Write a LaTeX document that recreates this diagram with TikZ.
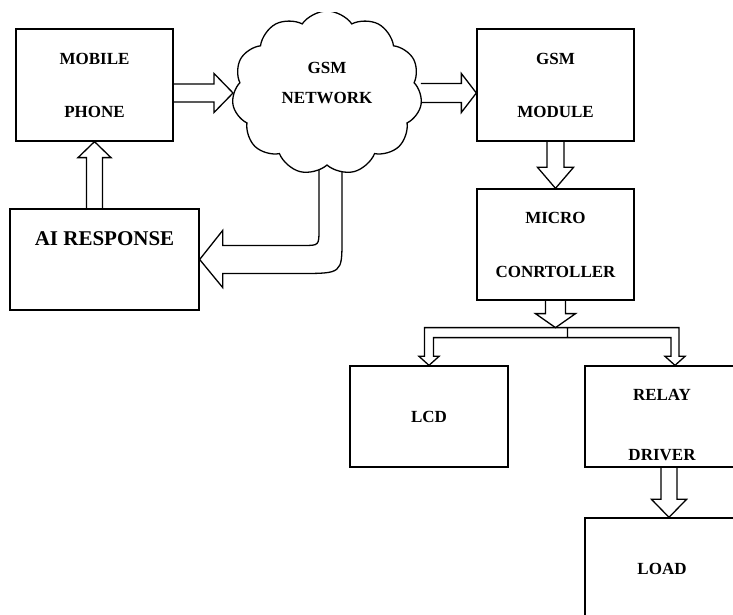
\documentclass[tikz,border=0pt]{standalone}
\usepackage{fontspec}
\setmainfont{Liberation Serif}
\usetikzlibrary{calc,shapes.symbols,backgrounds}

\begin{document}
\begin{tikzpicture}[x=1pt, y=1pt,
    block/.style={draw=black, line width=1.3pt, minimum width=157pt, minimum height=112pt, align=center, font=\bfseries\fontsize{17}{20}\selectfont},
    hollow/.style={draw=black, line width=1.3pt, line join=miter},
    fat/.style args={#1/#2/#3}{hollow, to path={($(\tikztostart)!#1!90:(\tikztotarget)$) -- ($(\tikztotarget)!#3!(\tikztostart)!#1!90:(\tikztotarget)$) -- ($(\tikztotarget)!#3!(\tikztostart)!#2!90:(\tikztotarget)$) -- (\tikztotarget) -- ($(\tikztotarget)!#3!(\tikztostart)!#2!-90:(\tikztotarget)$) -- ($(\tikztotarget)!#3!(\tikztostart)!#1!-90:(\tikztotarget)$) -- ($(\tikztostart)!#1!-90:(\tikztotarget)$)}}]
    \useasboundingbox (0,0) rectangle (733,615);
    \clip (0,0) rectangle (733,602);

    %Nodes
    \node[block] at (94.5, 530) (mob) {MOBILE\\[33pt]PHONE};
    \node[cloud, draw=black, fill=white, line width=1.3pt, cloud puffs=11, cloud puff arc=110, cloud ignores aspect, minimum width=190pt, minimum height=164pt, align=center, text depth=20pt, font=\bfseries\fontsize{17}{20}\selectfont] at (327, 522) (net) {GSM\\[10pt]NETWORK};
    \node[block] at (555.5, 530) (gsm) {GSM\\[33pt]MODULE};
    \node[block, minimum height=111pt] at (555.5, 370.5) (mcu) {MICRO\\[34pt]CONRTOLLER};
    \node[block, minimum width=189pt, minimum height=101pt, inner ysep=0pt, text height=37pt, text depth=64pt, font=\bfseries\fontsize{21}{24}\selectfont] at (104.5, 355.5) (ai) {AI RESPONSE};
    \node[block, minimum width=158pt, minimum height=101pt] at (429, 198.5) (lcd) {LCD};
    \node[block, minimum width=154pt, minimum height=101pt, inner ysep=0pt, text height=95pt, text depth=6pt] at (662, 198.5) (relay) {RELAY\\[40pt]DRIVER};
    \node[block, minimum width=154pt, minimum height=101pt] at (662, 46.5) (load) {LOAD};
    \coordinate (split) at ($(mcu.south)+(0,-27)$);

    %Lines
    \draw[fat=9pt/19.5pt/19pt] (mob.east |- net.west) to (net.west);
    \draw[fat=9.5pt/19.5pt/15pt] (net.east) to (gsm.west |- net.east);
    \draw[fat=8pt/16.5pt/16pt] (ai.north -| mob.south) to (mob.south);
    \draw[fat=8.5pt/18pt/21pt] (gsm.south) to (mcu.north);
    \draw[fat=10pt/20pt/14pt] (mcu.south) to (split);
    \draw[fat=8pt/17.5pt/18pt] ($(relay.south)+(7,0)$) to ($(load.north)+(7,0)$);
    \begin{scope}[on background layer]
    \draw[hollow] let \p1 = (net.south), \p2 = (ai.east) in
        (\x1-8pt, \y1+20pt) -- (\x1-8pt, \y2+30pt) .. controls (\x1-8pt, \y2+14pt) .. (\x1-24pt, \y2+14pt)
        -- (\x2+23pt, \y2+14pt) -- (\x2+23pt, \y2+29pt) -- (\p2) -- (\x2+23pt, \y2-28pt) -- (\x2+23pt, \y2-14pt)
        -- (\x1-27pt, \y2-14pt) .. controls (\x1+15pt, \y2-14pt) .. (\x1+15pt, \y2+20pt) -- (\x1+15pt, \y1+20pt);
    \end{scope}
    \draw[hollow] let \p1 = (split), \p2 = (lcd.north), \p3 = (relay.north) in
        (\x1+12pt, \y1-10pt) -- (\x2+4.5pt, \y1-10pt) -- (\x2+4.5pt, \y2+9pt) -- (\x2+10pt, \y2+9pt) -- (\p2)
        -- (\x2-10pt, \y2+9pt) -- (\x2-4.5pt, \y2+9pt) -- (\x2-4.5pt, \y1) -- (\x3+17pt, \y1) -- (\x3+17pt, \y3+9pt)
        -- (\x3+23pt, \y3+9pt) -- (\x3+13pt, \y3) -- (\x3+3pt, \y3+9pt) -- (\x3+9pt, \y3+9pt) -- (\x3+9pt, \y1-10pt)
        -- (\x1+12pt, \y1-10pt) -- (\x1+12pt, \y1);
\end{tikzpicture}
\end{document}
